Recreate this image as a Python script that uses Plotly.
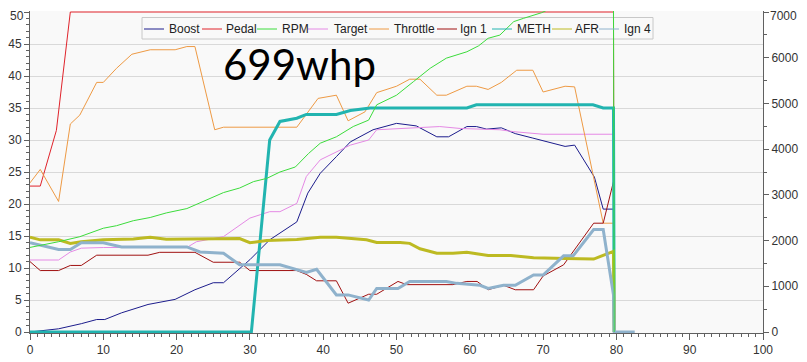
import plotly.graph_objects as go

# ---------------- data ----------------
boost_x = [0, 3.9, 7.0, 9.1, 10.2, 12.5, 16.1, 19.8, 22.5, 25.0, 26.4, 30.0, 32.7, 36.4, 37.9, 39.6,
           41.8, 43.7, 46.8, 50.0, 52.7, 55.5, 57.1, 59.6, 60.9, 62.3, 64.3, 66.2, 68.6, 70.5, 73.0,
           74.3, 77.0, 78.2, 79.6, 79.7]
boost_y = [0, 0.5, 1.3, 1.95, 1.95, 3.0, 4.3, 5.1, 6.6, 7.7, 7.7, 11.3, 14.4, 17.2, 21.7, 24.8,
           27.4, 29.7, 31.6, 32.6, 32.2, 30.5, 30.5, 32.1, 32.1, 31.7, 31.9, 31.0, 30.3, 29.7, 29.0,
           29.2, 24.2, 19.2, 19.2, 0]

pedal_x = [0, 1.4, 3.6, 5.5, 79.6, 79.7]
pedal_y = [22.8, 22.8, 31.5, 50, 50, 0]

rpm_x = [0, 3.9, 6.8, 10, 11.8, 14.1, 16.4, 18.6, 21.4, 24.1, 26.4, 28.6, 30.5, 32.3, 34.1, 36.2,
         38, 39.6, 41.8, 44.1, 46.2, 47.3, 50, 52.3, 54.6, 56.8, 59.6, 61.2, 62.5, 64.1, 66, 67.3,
         69.8, 72, 75, 79.6, 79.7]
rpm_y = [1850, 1975, 2085, 2270, 2325, 2435, 2505, 2605, 2700, 2885, 3050, 3150, 3290, 3360, 3500, 3610,
         3905, 4130, 4270, 4495, 4635, 4970, 5180, 5475, 5770, 5990, 6130, 6260, 6425, 6495, 6790, 6860,
         6985, 7150, 7300, 7450, 0]

target_x = [0, 3.9, 5.5, 7.0, 10, 21.4, 22.7, 26.4, 30, 32.7, 34.1, 36.4, 37.7, 39.6, 43.7, 46.2,
            47.3, 52.3, 55.9, 58.7, 64.1, 66, 70, 79.6, 79.7]
target_y = [11.25, 11.25, 12.5, 13.1, 13.2, 13.2, 14.1, 14.9, 17.8, 18.8, 18.8, 20.1, 24.3, 26.9, 29.2, 30.0,
            31.6, 31.9, 32.1, 31.8, 31.6, 31.3, 30.9, 30.9, 0]

throttle_x = [0, 1.4, 3.9, 5.5, 6.8, 9.1, 10, 11.8, 13.9, 16.4, 19.8, 21.4, 22.5, 25.2, 26.4, 36.4,
              39.3, 41.8, 43.4, 45.7, 47.3, 50, 51.8, 53.2, 55.5, 56.8, 59.6, 60.9, 62.5, 64.3, 66.4,
              68.6, 70, 73, 74.3, 78.2, 79.6, 79.7]
throttle_y = [23.3, 25.4, 20.4, 32.5, 33.9, 39, 39, 41.2, 43.4, 44.1, 44.1, 44.6, 44.6, 31.6, 32, 32,
              36.5, 37, 33, 34.4, 37.4, 38.4, 39.5, 39.5, 37, 37, 38.4, 38.4, 37.9, 39.0, 40.9,
              40.9, 37.5, 38.4, 38.3, 17, 17, 0]

ign1_x = [0, 1.4, 3.9, 5.5, 7.0, 9.1, 16.1, 17.7, 22.5, 25.0, 28.6, 30.0, 36.4, 37.7, 39.1, 41.8,
          43.4, 46.2, 47.3, 50.2, 51.4, 57.7, 59.6, 61.0, 62.5, 64.6, 66.2, 68.7, 70.0, 72.8, 76.9,
          78.2, 79.6, 79.7]
ign1_y = [11.0, 9.6, 9.6, 10.4, 10.4, 12.0, 12.0, 12.45, 12.45, 10.9, 10.9, 9.6, 9.6, 9.0, 8.0, 8.0,
          4.5, 5.9, 5.9, 7.9, 7.4, 7.4, 7.9, 7.9, 6.6, 7.3, 6.6, 6.6, 8.75, 10.5, 17.0,
          17.0, 23.5, 0]

meth_x = [0, 30.2, 32.7, 34.1, 36.4, 37.7, 41.8, 43.7, 46.4, 59.6, 60.9, 76.8, 78.2, 79.6, 79.7]
meth_y = [0, 0, 30.0, 32.9, 33.4, 34.0, 34.0, 34.6, 35.0, 35.0, 35.5, 35.5, 35.0, 35.0, 0]

afr_x = [0, 1.4, 3.9, 5.5, 7.0, 10, 14.1, 16.4, 18.6, 28.6, 30.0, 32.3, 36.4, 39.6, 41.8, 45.9,
         47.3, 50.5, 51.8, 53.2, 55.5, 57.7, 59.6, 62.5, 65.6, 68.7, 73.1, 76.9, 79.6, 79.7]
afr_y = [14.8, 14.4, 14.4, 13.85, 14.1, 14.4, 14.55, 14.8, 14.5, 14.6, 13.95, 14.3, 14.45, 14.8, 14.8, 14.4,
         14.0, 14.0, 13.85, 13.0, 12.3, 12.3, 12.45, 11.95, 11.95, 11.6, 11.5, 11.4, 12.6, 0]

ign4_x = [0, 3.9, 5.5, 7.0, 10, 12.5, 21.4, 23.2, 26.4, 28.6, 34.1, 36.4, 37.7, 39.1, 41.8, 43.4,
          46.2, 47.3, 50.2, 51.8, 56.8, 58.2, 61.4, 62.5, 64.6, 66.2, 68.7, 70.0, 72.8, 74.1, 76.9,
          78.2, 79.6, 79.7, 82.5]
ign4_y = [13.95, 12.9, 12.9, 13.95, 13.95, 13.3, 13.3, 12.5, 12.3, 10.5, 10.5, 9.8, 9.3, 9.8, 5.8, 5.8,
          5.0, 6.8, 6.8, 7.9, 7.9, 7.6, 7.3, 6.8, 7.3, 7.3, 8.9, 8.9, 11.9, 11.9, 16.0,
          16.0, 5.8, 0, 0]

series_names = ["Boost", "Pedal", "RPM", "Target", "Throttle", "Ign 1", "METH", "AFR", "Ign 4"]
series_colors = ["#1C1C8C", "#E0232B", "#3CDC3C", "#E58AE5", "#EE9A44", "#A01010", "#22B4B0", "#BDBA22", "#8FB2CC"]
series_widths = [1, 1, 1, 1, 1, 1, 3, 3, 3]
annotation_text = "699whp"

x_ticks = list(range(0, 101, 10))
y_ticks = list(range(0, 51, 5))
y2_ticks = list(range(0, 7001, 1000))

# ---------------- figure ----------------
# the page body adds an 8 px margin, so the figure is 8 px smaller and all
# screen positions below are converted with that offset
OFF = 8
W, H = 807 - OFF, 362 - OFF
# plot box on screen: x 30..763, value 0..50 at y 332..12 (+1 px of room top and bottom)
L = 30 - OFF
R = W - (763 - OFF)
T = 12 - OFF - 1
B = H - (332 - OFF) - 1
pw, ph = W - L - R, H - T - B
pad_units = 50 / 320.0
y_range = [-pad_units, 50 + pad_units]
y2_range = [v * 140 for v in y_range]

# the topmost labels would run past the page top: their text is drawn as annotations
y_text = [str(v) for v in y_ticks[:-1]] + [""]
y2_text = [str(v) for v in y2_ticks[:-1]] + [""]

data = [
    (boost_x, boost_y, "y"), (pedal_x, pedal_y, "y"), (rpm_x, rpm_y, "y2"),
    (target_x, target_y, "y"), (throttle_x, throttle_y, "y"), (ign1_x, ign1_y, "y"),
    (meth_x, meth_y, "y"), (afr_x, afr_y, "y"), (ign4_x, ign4_y, "y"),
]

fig = go.Figure()
for (xs, ys, ax), name, col, w in zip(data, series_names, series_colors, series_widths):
    fig.add_trace(go.Scatter(x=xs, y=ys, name=name, mode="lines", yaxis=ax,
                             line=dict(color=col, width=w), showlegend=False))

axis_col = "#606060"
tick_font = dict(family="Liberation Sans, Arial, sans-serif", size=12, color="#333333")

fig.update_layout(
    width=W, height=H,
    margin=dict(l=L, r=R, t=T, b=B, pad=0),
    paper_bgcolor="white", plot_bgcolor="#F9F9F9",
    xaxis=dict(range=[0, 100], tickvals=x_ticks, showgrid=False, zeroline=False, automargin=False,
               showline=True, linecolor=axis_col, linewidth=1, ticklabeloverflow="allow",
               ticks="outside", ticklen=6, tickcolor=axis_col, tickfont=tick_font,
               minor=dict(dtick=1, ticks="outside", ticklen=3, tickcolor=axis_col)),
    yaxis=dict(range=y_range, tickvals=y_ticks, ticktext=y_text, showgrid=True, gridcolor="#D9D9D9",
               zeroline=False, automargin=False, showline=True, linecolor=axis_col, linewidth=1,
               ticklabeloverflow="allow",
               ticks="outside", ticklen=5, tickcolor=axis_col, tickfont=tick_font,
               minor=dict(tick0=0, dtick=1, ticks="outside", ticklen=3, tickcolor=axis_col, showgrid=False)),
    yaxis2=dict(range=y2_range, tickvals=y2_ticks, ticktext=y2_text, overlaying="y", side="right",
                showgrid=False, zeroline=False, automargin=False, showline=True, linecolor=axis_col,
                linewidth=1, ticklabeloverflow="allow",
                ticks="outside", ticklen=5, tickcolor=axis_col, tickfont=tick_font,
                minor=dict(tick0=0, dtick=500, ticks="outside", ticklen=3, tickcolor=axis_col)),
    font=dict(family="Liberation Sans, Arial, sans-serif"),
)

def px_x(p):
    return (p - OFF - L) / pw

def px_y(p):
    return (H - B - (p - OFF)) / ph

# top tick labels, kept inside the page
fig.add_annotation(x=px_x(24.5), y=px_y(OFF), xref="paper", yref="paper", text=str(y_ticks[-1]),
                   showarrow=False, xanchor="right", yanchor="top", borderpad=0,
                   font=tick_font)
fig.add_annotation(x=px_x(768.5), y=px_y(OFF), xref="paper", yref="paper", text=str(y2_ticks[-1]),
                   showarrow=False, xanchor="left", yanchor="top", borderpad=0,
                   font=tick_font)

# big annotation
fig.add_annotation(x=px_x(221), y=px_y(64), xref="paper", yref="paper",
                   text=annotation_text, showarrow=False, xanchor="left", yanchor="middle",
                   font=dict(family="Lato, Carlito, sans-serif", size=42, color="black"))

# custom legend (box, line samples, labels)
fig.add_shape(type="rect", xref="paper", yref="paper",
              x0=px_x(142), x1=px_x(653), y0=px_y(39), y1=px_y(17.5),
              line=dict(color="#C8C8C8", width=1), fillcolor="rgba(0,0,0,0)", layer="below")
leg_line_x0 = [144, 202, 257, 308, 369, 437, 492, 552, 599]
leg_text_x = [167, 224, 280, 331.5, 391.5, 458, 515, 573, 622]
leg_y = 29
for name, col, lx, tx in zip(series_names, series_colors, leg_line_x0, leg_text_x):
    fig.add_shape(type="line", xref="paper", yref="paper",
                  x0=px_x(lx), x1=px_x(lx + 20), y0=px_y(leg_y), y1=px_y(leg_y),
                  line=dict(color=col, width=1))
    fig.add_annotation(x=px_x(tx), y=px_y(leg_y), xref="paper", yref="paper", text=name,
                       showarrow=False, xanchor="left", yanchor="middle",
                       font=dict(family="Liberation Sans, Arial, sans-serif", size=12, color="#222222"))

fig.write_html("out.html")
